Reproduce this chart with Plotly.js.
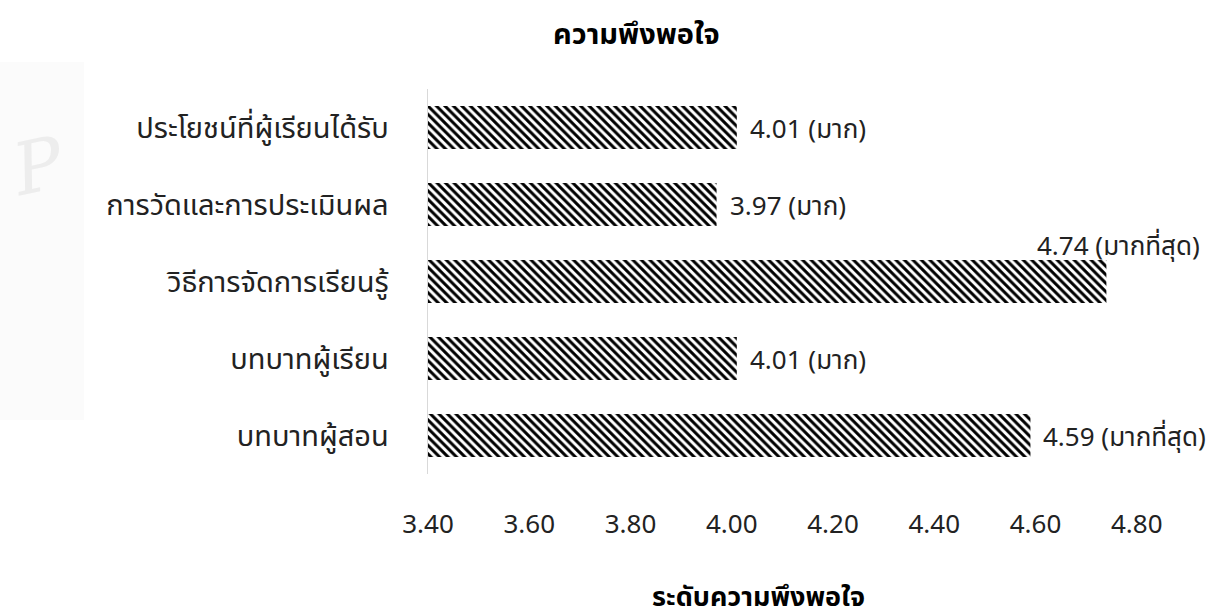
<!DOCTYPE html>
<html>
<head>
<meta charset="utf-8">
<script src="https://cdn.plot.ly/plotly-3.0.1.min.js"></script>
<style>html,body{margin:0;padding:0;background:#fff;}#chart{width:1224px;height:616px;}</style>
</head>
<body>
<div id="chart"></div>
<script>
// Categories listed bottom-to-top (Plotly draws the first category at the bottom)
const categories = ["บทบาทผู้สอน", "บทบาทผู้เรียน", "วิธีการจัดการเรียนรู้", "การวัดและการประเมินผล", "ประโยชน์ที่ผู้เรียนได้รับ"];
const values = [4.59, 4.01, 4.74, 3.97, 4.01];
const levels = ["มากที่สุด", "มาก", "มากที่สุด", "มาก", "มาก"];
const tickVals = [3.40, 3.60, 3.80, 4.00, 4.20, 4.40, 4.60, 4.80];
const tickText = ["3.40", "3.60", "3.80", "4.00", "4.20", "4.40", "4.60", "4.80"];
const chartTitle = "ความพึงพอใจ";
const xTitle = "ระดับความพึงพอใจ";
const axisMin = 3.4;

const FONT = "Noto Sans, Noto Sans Thai, Tahoma, sans-serif";
const maxVal = Math.max(...values);

const trace = {
  type: "bar",
  orientation: "h",
  x: values.map(v => v - axisMin),
  y: categories,
  base: axisMin,
  width: 0.56,
  marker: {
    color: "#ffffff",
    line: {width: 0},
    pattern: {shape: "\\", fgcolor: "#000000", bgcolor: "#ffffff", size: 6, solidity: 0.5}
  },
  hoverinfo: "skip"
};

const annotations = values.map((v, i) => {
  const top = v === maxVal;
  return {
    x: v, y: categories[i], xref: "x", yref: "y",
    text: v.toFixed(2) + " (" + levels[i] + ")",
    showarrow: false,
    xanchor: top ? "center" : "left",
    yanchor: "middle",
    xshift: top ? 12 : 11,
    yshift: top ? 37 : 0,
    font: {family: FONT, size: 26, color: "#222222"}
  };
});
annotations.push({
  x: 0.453, y: 0, xref: "paper", yref: "paper", yshift: -121,
  text: "<b>" + xTitle + "</b>", showarrow: false, xanchor: "center", yanchor: "middle",
  font: {family: FONT, size: 27, color: "#000000"}
});
// faint watermark at the left edge
annotations.push({
  x: -0.535, y: 0.80, xref: "paper", yref: "paper",
  text: "<i>P</i>", showarrow: false, xanchor: "center", yanchor: "middle", textangle: -12,
  font: {family: "DejaVu Serif, serif", size: 72, color: "#ededed"}
});

const layout = {
  width: 1224, height: 616,
  paper_bgcolor: "#ffffff", plot_bgcolor: "#ffffff",
  margin: {l: 428, r: 67, t: 89, b: 142},
  title: {text: "<b>" + chartTitle + "</b>", x: 0.52, xanchor: "center", y: 0.945, yanchor: "middle",
          font: {family: FONT, size: 29, color: "#000000"}},
  showlegend: false,
  xaxis: {
    range: [3.4, 4.84], tickvals: tickVals, ticktext: tickText,
    showgrid: false, zeroline: false, showline: false, ticks: "",
    ticklabelstandoff: 32,
    tickfont: {family: FONT, size: 26, color: "#222222"}, fixedrange: true
  },
  yaxis: {
    type: "category", categoryorder: "array", categoryarray: categories,
    showgrid: false, zeroline: false, showline: true, linecolor: "#d9d9d9", linewidth: 1.5,
    ticks: "", ticklabelstandoff: 32,
    tickfont: {family: FONT, size: 29, color: "#222222"}, fixedrange: true
  },
  shapes: [{
    type: "rect", xref: "paper", yref: "paper", layer: "below",
    x0: -0.59, x1: -0.472, y0: 0.14, y1: 1.07,
    fillcolor: "#fbfbfb", line: {width: 0}
  }],
  annotations: annotations,
  font: {family: FONT}
};

Plotly.newPlot("chart", [trace], layout, {displayModeBar: false, staticPlot: true});
</script>
</body>
</html>
